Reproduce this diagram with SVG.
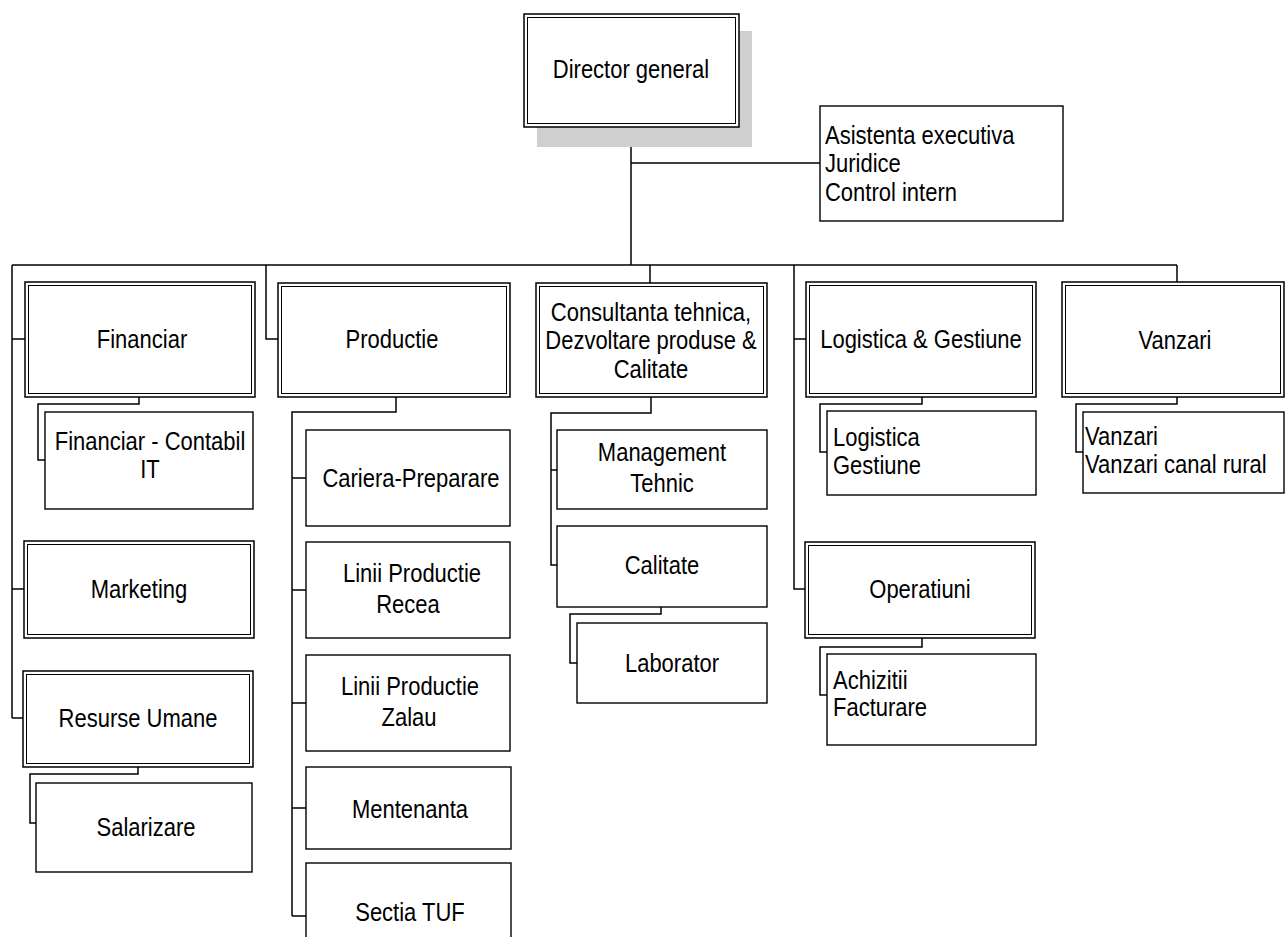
<svg xmlns="http://www.w3.org/2000/svg" width="1287" height="937" viewBox="0 0 1287 937">
<style>
.bo{fill:#fff;stroke:#000;stroke-width:1.5}
.bi{fill:none;stroke:#000;stroke-width:1}
.b{fill:#fff;stroke:#000;stroke-width:1.4}
.c{fill:none;stroke:#000;stroke-width:1.5}
.sh{fill:#cfcfcf}
text{font-family:"Liberation Sans",Arial,sans-serif;font-size:22px;fill:#000}
.m{text-anchor:middle}
</style>
<rect width="1287" height="937" fill="#fff"/>
<g id="connectors">
<path class="c" d="M631,127V265M631,163H820M12,265H1177"/>
<path class="c" d="M12,265V718M12,339H25M12,589H24M12,718H23"/>
<path class="c" d="M139,397V404H38V460H45"/>
<path class="c" d="M138,767V774H30V823H36"/>
<path class="c" d="M266,265V339H278"/>
<path class="c" d="M396,397V412H292V916M292,478H306M292,590H306M292,703H306M292,808H306M292,916H306"/>
<path class="c" d="M650,265V283"/>
<path class="c" d="M651,397V413H551V565H557M551,470H557"/>
<path class="c" d="M661,607V614H570V663H577"/>
<path class="c" d="M794,265V589H805M794,339H806"/>
<path class="c" d="M922,397V404H820V452H827"/>
<path class="c" d="M922,638V647H820V695H827"/>
<path class="c" d="M1177,265V282"/>
<path class="c" d="M1177,397V404H1076V452H1083"/>
</g>
<g id="director">
<rect class="sh" x="537" y="31" width="215" height="116"/>
<rect class="bo" x="524" y="14" width="215" height="113"/>
<rect class="bi" x="527.5" y="17.5" width="208" height="106"/>
<text class="m" transform="translate(631,78) scale(1,1.15)">Director general</text>
</g>
<g id="asistenta">
<rect class="b" x="820" y="106" width="243" height="115"/>
<text transform="translate(825,144) scale(1,1.15)">Asistenta executiva</text>
<text transform="translate(825,172) scale(1,1.15)">Juridice</text>
<text transform="translate(825,201) scale(1,1.15)">Control intern</text>
</g>
<g id="financiar">
<rect class="bo" x="25" y="282" width="230" height="115"/>
<rect class="bi" x="28.5" y="285.5" width="223" height="108"/>
<text class="m" transform="translate(142,348) scale(1,1.15)">Financiar</text>
</g>
<g id="financiar-contabil">
<rect class="b" x="45" y="412" width="208" height="97"/>
<text class="m" transform="translate(150,450) scale(1,1.15)">Financiar - Contabil</text>
<text class="m" transform="translate(150,478) scale(1,1.15)">IT</text>
</g>
<g id="marketing">
<rect class="bo" x="24" y="541" width="230" height="97"/>
<rect class="bi" x="27.5" y="544.5" width="223" height="90"/>
<text class="m" transform="translate(139,598) scale(1,1.15)">Marketing</text>
</g>
<g id="resurse-umane">
<rect class="bo" x="23" y="671" width="230" height="96"/>
<rect class="bi" x="26.5" y="674.5" width="223" height="89"/>
<text class="m" transform="translate(138,727) scale(1,1.15)">Resurse Umane</text>
</g>
<g id="salarizare">
<rect class="b" x="36" y="783" width="216" height="89"/>
<text class="m" transform="translate(146,836) scale(1,1.15)">Salarizare</text>
</g>
<g id="productie">
<rect class="bo" x="278" y="283" width="232" height="114"/>
<rect class="bi" x="281.5" y="286.5" width="225" height="107"/>
<text class="m" transform="translate(392,348) scale(1,1.15)">Productie</text>
</g>
<g id="cariera">
<rect class="b" x="306" y="430" width="204" height="96"/>
<text class="m" transform="translate(411,487) scale(1,1.15)">Cariera-Preparare</text>
</g>
<g id="linii-recea">
<rect class="b" x="306" y="542" width="204" height="96"/>
<text class="m" transform="translate(412,582) scale(1,1.15)">Linii Productie</text>
<text class="m" transform="translate(408,613) scale(1,1.15)">Recea</text>
</g>
<g id="linii-zalau">
<rect class="b" x="306" y="655" width="204" height="96"/>
<text class="m" transform="translate(410,695) scale(1,1.15)">Linii Productie</text>
<text class="m" transform="translate(409,726) scale(1,1.15)">Zalau</text>
</g>
<g id="mentenanta">
<rect class="b" x="306" y="767" width="205" height="82"/>
<text class="m" transform="translate(410,818) scale(1,1.15)">Mentenanta</text>
</g>
<g id="sectia-tuf">
<rect class="b" x="306" y="863" width="205" height="90"/>
<text class="m" transform="translate(410,921) scale(1,1.15)">Sectia TUF</text>
</g>
<g id="consultanta">
<rect class="bo" x="536" y="283" width="231" height="114"/>
<rect class="bi" x="539.5" y="286.5" width="224" height="107"/>
<text class="m" transform="translate(651,321) scale(1,1.15)">Consultanta tehnica,</text>
<text class="m" transform="translate(651,349) scale(1,1.15)">Dezvoltare produse &amp;</text>
<text class="m" transform="translate(651,378) scale(1,1.15)">Calitate</text>
</g>
<g id="management-tehnic">
<rect class="b" x="557" y="430" width="210" height="79"/>
<text class="m" transform="translate(662,461) scale(1,1.15)">Management</text>
<text class="m" transform="translate(662,492) scale(1,1.15)">Tehnic</text>
</g>
<g id="calitate">
<rect class="b" x="557" y="526" width="210" height="81"/>
<text class="m" transform="translate(662,574) scale(1,1.15)">Calitate</text>
</g>
<g id="laborator">
<rect class="b" x="577" y="623" width="190" height="80"/>
<text class="m" transform="translate(672,672) scale(1,1.15)">Laborator</text>
</g>
<g id="logistica-gestiune">
<rect class="bo" x="806" y="282" width="230" height="115"/>
<rect class="bi" x="809.5" y="285.5" width="223" height="108"/>
<text class="m" transform="translate(921,348) scale(1,1.15)">Logistica &amp; Gestiune</text>
</g>
<g id="logistica-sub">
<rect class="b" x="827" y="411" width="209" height="84"/>
<text transform="translate(833,446) scale(1,1.15)">Logistica</text>
<text transform="translate(833,474) scale(1,1.15)">Gestiune</text>
</g>
<g id="operatiuni">
<rect class="bo" x="805" y="542" width="230" height="96"/>
<rect class="bi" x="808.5" y="545.5" width="223" height="89"/>
<text class="m" transform="translate(920,598) scale(1,1.15)">Operatiuni</text>
</g>
<g id="achizitii">
<rect class="b" x="827" y="654" width="209" height="91"/>
<text transform="translate(833,689) scale(1,1.15)">Achizitii</text>
<text transform="translate(833,716) scale(1,1.15)">Facturare</text>
</g>
<g id="vanzari">
<rect class="bo" x="1062" y="282" width="222" height="115"/>
<rect class="bi" x="1065.5" y="285.5" width="215" height="108"/>
<text class="m" transform="translate(1175,349) scale(1,1.15)">Vanzari</text>
</g>
<g id="vanzari-sub">
<rect class="b" x="1083" y="412" width="201" height="81"/>
<text transform="translate(1085,445) scale(1,1.15)">Vanzari</text>
<text transform="translate(1085,473) scale(1,1.15)">Vanzari canal rural</text>
</g>
</svg>
